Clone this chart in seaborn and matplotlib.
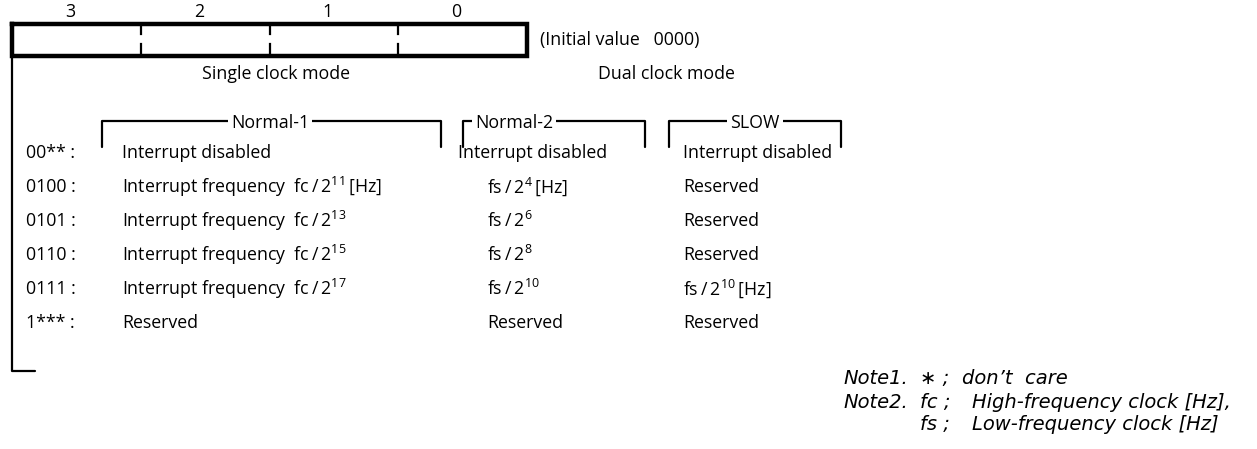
import matplotlib
matplotlib.use("Agg")
import matplotlib.pyplot as plt
import seaborn as sns

# ------------------------------
# Register contents
# ------------------------------
bit_labels = ["3", "2", "1", "0"]
initial_value = "(Initial value   0000)"

codes = ["00** :", "0100 :", "0101 :", "0110 :", "0111 :", "1*** :"]
normal1 = ["Interrupt disabled",
           "Interrupt frequency  fc\u2009/\u20092$^{11}$\u2009[Hz]",
           "Interrupt frequency  fc\u2009/\u20092$^{13}$",
           "Interrupt frequency  fc\u2009/\u20092$^{15}$",
           "Interrupt frequency  fc\u2009/\u20092$^{17}$",
           "Reserved"]
normal2 = ["Interrupt disabled",
           "fs\u2009/\u20092$^{4}$\u2009[Hz]",
           "fs\u2009/\u20092$^{6}$",
           "fs\u2009/\u20092$^{8}$",
           "fs\u2009/\u20092$^{10}$",
           "Reserved"]
slow = ["Interrupt disabled", "Reserved", "Reserved", "Reserved",
        "fs\u2009/\u20092$^{10}$\u2009[Hz]", "Reserved"]

mode_groups = ["Single clock mode", "Dual clock mode"]
brackets = ["Normal-1", "Normal-2", "SLOW"]

note_heads = ["Note1.", "Note2.", ""]
note_keys = ["\u2217 ;", "fc ;", "fs ;"]
note_texts = ["don\u2019t  care", "High-frequency clock [Hz],", "Low-frequency clock [Hz]"]

# ------------------------------
# Figure setup (pixel coordinates)
# ------------------------------
sns.set_style("white")
plt.rcParams["font.family"] = ["Open Sans", "DejaVu Sans"]
plt.rcParams["mathtext.default"] = "regular"
plt.rcParams["text.color"] = "black"

fig = plt.figure(figsize=(12.57, 4.49), dpi=100)
ax = fig.add_axes([0, 0, 1, 1])
ax.set_xlim(0, 1257)
ax.set_ylim(449, 0)
ax.axis("off")

fs = 12.8
lw = 1.6

# register box
box_l, box_r, box_t, box_b = 12, 527, 24, 56
ax.plot([box_l, box_r, box_r, box_l, box_l], [box_t, box_t, box_b, box_b, box_t],
        color="black", lw=3.2, solid_joinstyle="miter", solid_capstyle="projecting")
cell_w = (box_r - box_l) / 4
for i, b in enumerate(bit_labels):
    ax.text(box_l + cell_w * (i + 0.5) - 6, 12, b, ha="center", va="center", fontsize=fs)
    if i > 0:
        ax.vlines(box_l + cell_w * i, box_t, box_b, color="black", lw=lw, linestyles=(0, (5, 3.5)))
ax.text(540, 40, initial_value, ha="left", va="center", fontsize=fs)

# left leader line
ax.plot([box_l, box_l, 35], [box_b, 371, 371], color="black", lw=lw)

# mode headings
ax.text(276, 74, mode_groups[0], ha="center", va="center", fontsize=fs)
ax.text(666, 74, mode_groups[1], ha="center", va="center", fontsize=fs)

# brackets
bracket_spans = [(102, 441, 270), (463, 645, 514), (669, 841, 755)]
for name, (x0, x1, xc) in zip(brackets, bracket_spans):
    ax.text(xc, 123, name, ha="center", va="center", fontsize=fs,
            bbox=dict(facecolor="white", edgecolor="none", pad=2))
    ax.plot([x0, x0, x1, x1], [147, 121, 121, 147], color="black", lw=lw, zorder=0)

# table rows
row_y = [153, 187, 221, 255, 289, 323]
for y, c, n1, n2, s in zip(row_y, codes, normal1, normal2, slow):
    ax.text(26, y, c, ha="left", va="center", fontsize=fs)
    ax.text(122, y, n1, ha="left", va="center", fontsize=fs)
    x2 = 458 if n2 == "Interrupt disabled" else 487
    ax.text(x2, y, n2, ha="left", va="center", fontsize=fs)
    ax.text(683, y, s, ha="left", va="center", fontsize=fs)

# notes
note_y = [379, 402, 425]
nfont = dict(fontsize=14, style="italic", family="DejaVu Sans", va="center", ha="left")
for y, h, k, t in zip(note_y, note_heads, note_keys, note_texts):
    ax.text(843, y, h, **nfont)
    ax.text(920, y, k, **nfont)
    ax.text(962 if h == "Note1." else 972, y, t, **nfont)

fig.savefig("out.png", dpi=100, facecolor="white")
